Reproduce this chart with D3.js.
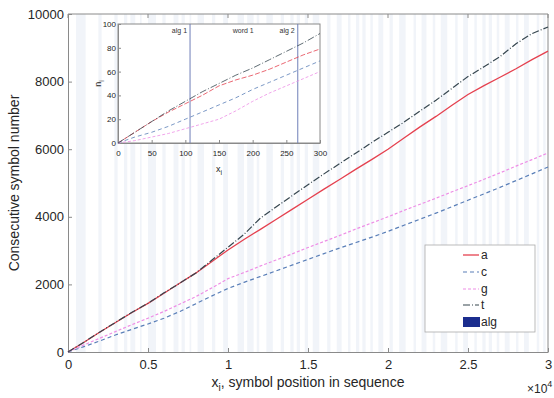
<!DOCTYPE html>
<html>
<head>
<meta charset="utf-8">
<script src="https://cdn.jsdelivr.net/npm/d3@7"></script>
<style>
  body { margin: 0; background: #fff; }
  svg { font-family: "Liberation Sans", Arial, sans-serif; }
</style>
</head>
<body>
<div id="chart"></div>
<script>
// main plot data: cumulative symbol counts vs position
const position = [0, 1000, 2000, 3000, 4000, 5000, 6000, 7000, 8000, 9000, 10000, 11000, 12000, 13000, 14000, 15000,
  16000, 17000, 18000, 19000, 20000, 21000, 22000, 23000, 24000, 25000, 26000, 27000, 28000, 29000, 30000];
const countA = [0, 290, 590, 880, 1170, 1440, 1740, 2040, 2340, 2680, 3020, 3330, 3620, 3920, 4220, 4520,
  4820, 5110, 5410, 5700, 6000, 6330, 6660, 6970, 7300, 7620, 7880, 8130, 8380, 8650, 8900];
const countC = [0, 160, 330, 510, 670, 830, 1000, 1200, 1430, 1660, 1880, 2060, 2230, 2400, 2570, 2740,
  2910, 3080, 3240, 3400, 3570, 3750, 3930, 4110, 4300, 4490, 4680, 4870, 5070, 5270, 5475];
const countG = [0, 210, 410, 610, 810, 1000, 1200, 1420, 1640, 1900, 2170, 2350, 2540, 2720, 2900, 3090,
  3270, 3450, 3640, 3820, 4000, 4190, 4370, 4550, 4740, 4920, 5110, 5300, 5500, 5690, 5890];
const countT = [0, 290, 595, 885, 1175, 1445, 1750, 2040, 2340, 2720, 3100, 3480, 3950, 4290, 4620, 4950,
  5270, 5580, 5890, 6200, 6500, 6800, 7130, 7450, 7800, 8150, 8440, 8740, 9120, 9420, 9615];

// alg regions (symbol positions)
const algStart = [500, 1900, 2900, 3500, 3900, 4500, 5000, 5900, 6600, 7100, 7600, 8100, 9000, 9700, 10600, 11200,
  11800, 12400, 13300, 13900, 14300, 14800, 15300, 16200, 16800, 17500, 18000, 18400, 18900, 19400, 20100, 20700,
  21600, 22100, 22800, 23300, 24200, 24700, 25400, 25900, 26300, 26800, 27300, 28000, 28500, 29300, 29700];
const algEnd = [1100, 2100, 3100, 3700, 4200, 4600, 5500, 6100, 6900, 7300, 7700, 8500, 9200, 10000, 11000, 11600,
  11950, 12800, 13500, 14100, 14500, 15000, 15700, 16400, 17100, 17650, 18200, 18600, 19050, 19700, 20300, 21100,
  21750, 22400, 22950, 23700, 24350, 25000, 25550, 26100, 26500, 26950, 27600, 28150, 28800, 29450, 29850];

// inset: first 300 symbols
const insetPos = [0, 25, 50, 75, 100, 125, 150, 175, 200, 225, 250, 275, 300];
const insetA = [0, 9, 18, 26, 33, 40, 48, 53, 57, 62, 68, 74, 79];
const insetC = [0, 5, 9, 14, 20, 26, 32, 38, 45, 51, 57, 63, 69];
const insetG = [0, 2, 5, 8, 12, 16, 20, 27, 35, 42, 48, 54, 60];
const insetT = [0, 9, 18, 27, 35, 43, 50, 57, 63, 70, 77, 84, 92];
const insetMarks = [107, 206, 267];
const insetMarkLabels = ['alg 1', 'word 1', 'alg 2'];

const xTicks = [0, 5000, 10000, 15000, 20000, 25000, 30000];
const yTicks = [0, 2000, 4000, 6000, 8000, 10000];
const insetXTicks = [0, 50, 100, 150, 200, 250, 300];
const insetYTicks = [0, 20, 40, 60, 80, 100];

const series = [
  {name: 'a', main: countA, inset: insetA, color: '#e5414f', dash: null, width: 1.3},
  {name: 'c', main: countC, inset: insetC, color: '#5a7fb8', dash: '4,3', width: 1.2},
  {name: 'g', main: countG, inset: insetG, color: '#ee8ee6', dash: '3,2', width: 1.2},
  {name: 't', main: countT, inset: insetT, color: '#36464f', dash: '7,2,1,2', width: 1.2}
];

const width = 554, height = 398;
const svg = d3.select('#chart').append('svg')
  .attr('width', width)
  .attr('height', height);

const pLeft = 68, pRight = 548, pTop = 14, pBottom = 352;
const x = d3.scaleLinear().domain([0, 30000]).range([pLeft, pRight]);
const y = d3.scaleLinear().domain([0, 10000]).range([pBottom, pTop]);

// background
svg.append('rect').attr('x', pLeft).attr('y', pTop)
  .attr('width', pRight - pLeft).attr('height', pBottom - pTop).attr('fill', '#fff');

// alg bands
svg.append('g').selectAll('rect')
  .data(algStart.map((s, i) => [s, algEnd[i]]))
  .join('rect')
  .attr('x', d => x(d[0]))
  .attr('y', pTop)
  .attr('width', d => x(d[1]) - x(d[0]))
  .attr('height', pBottom - pTop)
  .attr('fill', '#4d6fae')
  .attr('opacity', 0.08);

// axes
const xAxis = svg.append('g')
  .attr('transform', `translate(0,${pBottom})`)
  .call(d3.axisBottom(x).tickValues(xTicks).tickSizeInner(-4).tickSizeOuter(0)
    .tickFormat(d => d3.format('~g')(d / 10000)));
const yAxis = svg.append('g')
  .attr('transform', `translate(${pLeft},0)`)
  .call(d3.axisLeft(y).tickValues(yTicks).tickSizeInner(-4).tickSizeOuter(0).tickFormat(d3.format('d')));
[xAxis, yAxis].forEach(ax => {
  ax.select('.domain').attr('stroke', '#8a8a8a');
  ax.selectAll('.tick line').attr('stroke', '#8a8a8a');
  ax.selectAll('.tick text').attr('fill', '#262626').attr('font-size', 13);
});
xAxis.selectAll('.tick text').attr('dy', '1.1em');
yAxis.selectAll('.tick text').attr('x', -4);

// top and right box lines
svg.append('path')
  .attr('d', `M${pLeft},${pTop}H${pRight}V${pBottom}`)
  .attr('fill', 'none').attr('stroke', '#8a8a8a');
svg.append('g').selectAll('line').data(xTicks).join('line')
  .attr('x1', d => x(d)).attr('x2', d => x(d)).attr('y1', pTop).attr('y2', pTop + 4)
  .attr('stroke', '#8a8a8a');

// main lines
const line = d3.line().x((d, i) => x(position[i])).y(d => y(d));
series.forEach(s => {
  svg.append('path')
    .datum(s.main)
    .attr('d', line)
    .attr('fill', 'none')
    .attr('stroke', s.color)
    .attr('stroke-width', s.width)
    .attr('stroke-dasharray', s.dash);
});

// labels
const xl = svg.append('text').attr('x', 308).attr('y', 387)
  .attr('text-anchor', 'middle').attr('font-size', 14).attr('fill', '#262626');
xl.append('tspan').text('x');
xl.append('tspan').attr('font-size', 10).attr('dy', 4).text('i');
xl.append('tspan').attr('dy', -4).text(', symbol position in sequence');

svg.append('text')
  .attr('transform', `translate(19,${(pTop + pBottom) / 2}) rotate(-90)`)
  .attr('text-anchor', 'middle').attr('font-size', 14).attr('fill', '#262626')
  .text('Consecutive symbol number');

const ex = svg.append('text').attr('x', 527).attr('y', 393).attr('font-size', 12).attr('fill', '#262626');
ex.append('tspan').text('\u00d710');
ex.append('tspan').attr('font-size', 9).attr('dy', -6).text('4');

// legend
const lg = svg.append('g');
lg.append('rect').attr('x', 425).attr('y', 245).attr('width', 110).attr('height', 87)
  .attr('fill', '#fff').attr('stroke', '#aaa').attr('stroke-width', 0.8);
const legendRows = [255, 272, 289, 305];
series.forEach((s, i) => {
  lg.append('line').attr('x1', 463).attr('x2', 479)
    .attr('y1', legendRows[i]).attr('y2', legendRows[i])
    .attr('stroke', s.color).attr('stroke-width', s.width).attr('stroke-dasharray', s.dash);
  lg.append('text').attr('x', 481).attr('y', legendRows[i] + 4)
    .attr('font-size', 12).attr('fill', '#262626').text(s.name);
});
lg.append('rect').attr('x', 463).attr('y', 317).attr('width', 17).attr('height', 10).attr('fill', '#1b2d8e');
lg.append('text').attr('x', 481).attr('y', 326).attr('font-size', 12).attr('fill', '#262626').text('alg');

// inset
const iL = 118, iR = 320, iT = 24, iB = 143;
const ix = d3.scaleLinear().domain([0, 300]).range([iL, iR]);
const iy = d3.scaleLinear().domain([0, 100]).range([iB, iT]);
const inset = svg.append('g');
inset.append('rect').attr('x', iL).attr('y', iT).attr('width', iR - iL).attr('height', iB - iT)
  .attr('fill', '#fff').attr('stroke', '#8a8a8a');

inset.append('g').selectAll('line').data(insetMarks.filter((d, i) => i !== 1)).join('line')
  .attr('x1', d => ix(d)).attr('x2', d => ix(d)).attr('y1', iT).attr('y2', iB)
  .attr('stroke', '#6f7fb8').attr('stroke-width', 1);
inset.append('g').selectAll('text').data(insetMarks).join('text')
  .attr('x', d => ix(d) - 3).attr('y', iT + 9)
  .attr('text-anchor', 'end').attr('font-size', 7).attr('fill', '#333')
  .text((d, i) => insetMarkLabels[i]);

const ixAxis = inset.append('g').attr('transform', `translate(0,${iB})`)
  .call(d3.axisBottom(ix).tickValues(insetXTicks).tickSizeInner(-3).tickSizeOuter(0));
const iyAxis = inset.append('g').attr('transform', `translate(${iL},0)`)
  .call(d3.axisLeft(iy).tickValues(insetYTicks).tickSizeInner(-3).tickSizeOuter(0));
[ixAxis, iyAxis].forEach(ax => {
  ax.select('.domain').attr('stroke', '#8a8a8a');
  ax.selectAll('.tick line').attr('stroke', '#8a8a8a');
  ax.selectAll('.tick text').attr('fill', '#262626').attr('font-size', 8);
});
ixAxis.selectAll('.tick text').attr('dy', '1.2em');
iyAxis.selectAll('.tick text').attr('x', -2);

const iline = d3.line().x((d, i) => ix(insetPos[i])).y(d => iy(d));
series.forEach(s => {
  inset.append('path')
    .datum(s.inset)
    .attr('d', iline)
    .attr('fill', 'none')
    .attr('stroke', s.color)
    .attr('stroke-width', 0.8)
    .attr('stroke-dasharray', s.dash || '5,2');
});

const ixl = inset.append('text').attr('x', (iL + iR) / 2).attr('y', 172)
  .attr('text-anchor', 'middle').attr('font-size', 9).attr('fill', '#262626');
ixl.append('tspan').text('x');
ixl.append('tspan').attr('font-size', 7).attr('dy', 3).text('i');

const iyl = inset.append('text')
  .attr('transform', `translate(101,${(iT + iB) / 2}) rotate(-90)`)
  .attr('text-anchor', 'middle').attr('font-size', 9).attr('fill', '#262626');
iyl.append('tspan').text('n');
iyl.append('tspan').attr('font-size', 7).attr('dy', 3).text('i');
</script>
</body>
</html>
